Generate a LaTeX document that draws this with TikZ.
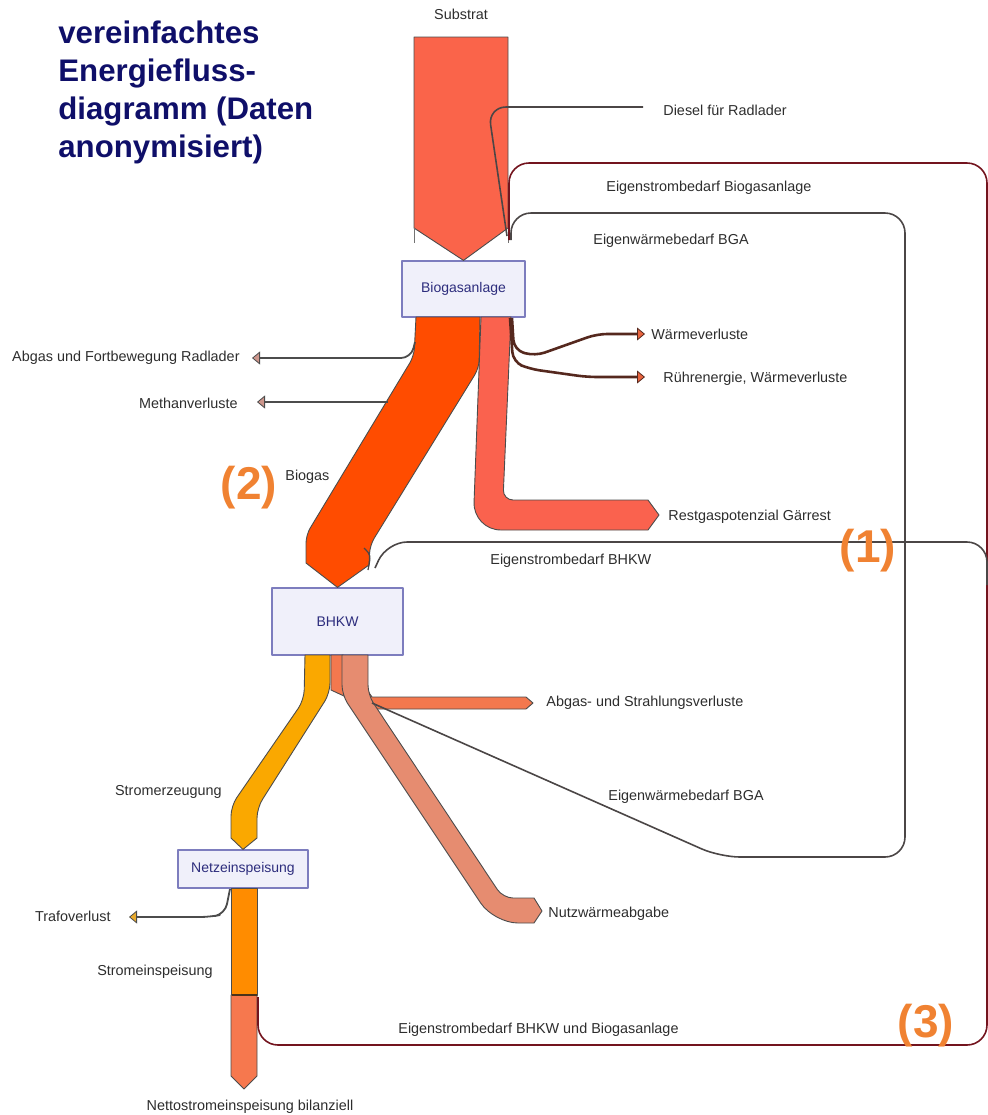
\documentclass[tikz,border=0pt]{standalone}
\usepackage{fontspec}
\setmainfont{Liberation Sans}
\usepackage{tikz}
\usetikzlibrary{positioning,arrows.meta}
\definecolor{substratc}{RGB}{250,100,74}
\definecolor{biogasc}{RGB}{255,76,0}
\definecolor{restc}{RGB}{250,98,78}
\definecolor{stromc}{RGB}{250,168,0}
\definecolor{einspc}{RGB}{255,140,0}
\definecolor{nettoc}{RGB}{246,120,78}
\definecolor{nutzc}{RGB}{230,140,112}
\definecolor{abgasc}{RGB}{243,120,78}
\definecolor{boxc}{RGB}{240,240,250}
\definecolor{boxline}{RGB}{125,125,190}
\definecolor{boxtext}{RGB}{45,45,125}
\definecolor{titlec}{RGB}{15,15,105}
\definecolor{markc}{RGB}{240,130,50}
\definecolor{loopred}{RGB}{115,20,30}
\definecolor{loopgray}{RGB}{75,70,70}
\definecolor{lblc}{RGB}{45,45,45}
\definecolor{wlinec}{RGB}{85,40,30}
\definecolor{wtipc}{RGB}{232,100,62}
\definecolor{ltipc}{RGB}{205,150,140}
\definecolor{ttipc}{RGB}{232,170,45}

\begin{document}
\begin{tikzpicture}[x=0.5pt,y=-0.5pt,line join=round,
    lbl/.style={font=\fontsize{7.2}{8.6}\selectfont,text=lblc,inner sep=0pt},
    plant/.style={draw=boxline,fill=boxc,text=boxtext,font=\fontsize{7}{8}\selectfont,inner sep=0pt,line width=0.6pt},
    band/.style={draw=black!70,line width=0.45pt},
    numlbl/.style={font=\fontsize{23}{25}\selectfont\bfseries,text=markc,inner sep=0pt},
    backline/.style={line width=0.8pt,rounded corners=10pt},
    leak/.style={draw=black!70,line width=0.9pt,rounded corners=5pt,-{Triangle[length=4pt,width=6.5pt,fill=#1,line width=0.4pt]}},
    ]
\useasboundingbox (0,0) rectangle (988,1115);

\node[anchor=north west,align=left,inner sep=0pt,text=titlec,font=\fontsize{15.6}{19}\selectfont\bfseries] (title) at (58,20) {vereinfachtes\\Energiefluss-\\diagramm (Daten\\anonymisiert)};

\node[plant,minimum width=61.5pt,minimum height=28pt] (bga) at (463.5,289) {Biogasanlage};
\node[plant,minimum width=65.5pt,minimum height=33.5pt] (bhkw) at (337.5,621.5) {BHKW};
\node[plant,minimum width=65pt,minimum height=19pt] (netz) at (243,869) {Netzeinspeisung};

% flows
\draw[band,fill=substratc] (414,37) -- (508,37) -- (508,228) -- (bga.north) -- (414,228) -- cycle; % Substrat
\draw[black!55,line width=0.45pt] (414,228) -- (414,243) (508,228) -- (508,243);
\draw[band,fill=biogasc] (416,317) -- (480,317) [rounded corners=4pt] -- (479,368) -- (370,545) [sharp corners] -- (369,565) -- (bhkw.north) -- (306,563) [rounded corners=4pt] -- (306,535) -- (414,356) [sharp corners] -- cycle; % Biogas
\draw[band,fill=restc] (481,317) -- (511,317) [rounded corners=5pt] -- (503,500) [sharp corners] -- (648,500) -- (659,515) -- (648,530) [rounded corners=14pt] -- (473,530) [sharp corners] -- cycle; % Restgas
\draw[band,fill=stromc] (305,655) -- (330,655) [rounded corners=5pt] -- (330,693) -- (257,808) [sharp corners] -- (257,838) -- (netz.north) -- (231,838) [rounded corners=5pt] -- (231,806) -- (304,700) [sharp corners] -- cycle; % Stromerzeugung
\draw[band,fill=abgasc] (331,655) -- (343,655) -- (372,697) -- (526,697) -- (533,703) -- (526,709) -- (372,709) -- (331,690) -- cycle; % Abgas
\draw[band,fill=nutzc] (342,655) -- (368,655) [rounded corners=5pt] -- (368,695) -- (503,898) [sharp corners] -- (534,898) -- (542,911) -- (534,923) [rounded corners=12pt] -- (494,923) [rounded corners=5pt] -- (342,695) [sharp corners] -- cycle; % Nutzwaerme
\draw[band,fill=einspc] (231,888) rectangle (257,995); % Stromeinspeisung
\draw[band,fill=nettoc] (231,995) -- (257,995) -- (257,1076) -- (244,1089) -- (231,1076) -- cycle; % Netto
\draw[black!60!brown,line width=1.2pt] (231.5,995) -- (256.5,995);

% losses
\draw[leak=wtipc,draw=wlinec,line width=1.3pt] (512,318) -- (514,350) -- (535,356) -- (597,334) -- (645,334);
\draw[leak=wtipc,draw=wlinec,line width=1.3pt] (510,318) -- (513,362) -- (530,369) -- (587,377) -- (645,377);
\draw[leak=ltipc] (415,342) -- (411,358) -- (252,358);
\draw[leak=ltipc] (388,402) -- (257,402);
\draw[leak=ttipc] (230,889) -- (225,914) -- (210,917) -- (129,917);

% return lines
\node[lbl,anchor=west] (dsl) at (663,110) {Diesel für Radlader};
\draw[backline,draw=loopgray,rounded corners=9pt] ([xshift=-10pt,yshift=1.5pt]dsl.west) -- (488,107) -- (507,236);
\draw[backline,draw=loopred] (258,997) -- (258,1045) -- (987,1045) -- (987,163) -- (509,163) -- (509,240);
\draw[backline,draw=loopgray] (987,585) -- (987,542) -- (387,542) -- (375,568);
\draw[loopgray,line width=0.6pt] (364,548) .. controls (371,555) .. (368,570);
\draw[backline,draw=loopgray] (372,703) -- (720,857) -- (905,857) -- (905,213) -- (511,213) -- (511,240);

% labels
\node[lbl] (sub) at (461,14) {Substrat};
\node[lbl,anchor=west] (esbga) at (606,188) {Eigenstrombedarf Biogasanlage};
\node[lbl,anchor=west] (ewbga) at (593,241) {Eigenwärmebedarf BGA};
\node[lbl,anchor=west] (wv) at (651,334) {Wärmeverluste};
\node[lbl,anchor=west] (ruehr) at (663,379) {Rührenergie, Wärmeverluste};
\node[lbl,anchor=east] (radl) at (240,358) {Abgas und Fortbewegung Radlader};
\node[lbl,anchor=east] (meth) at (238,403) {Methanverluste};
\node[lbl,anchor=west] (bgas) at (285,477) {Biogas};
\node[lbl,anchor=west] (rest) at (668,517) {Restgaspotenzial Gärrest};
\node[lbl,anchor=west] (esbhkw) at (490,561) {Eigenstrombedarf BHKW};
\node[lbl,anchor=west] (abg) at (546,703) {Abgas- und Strahlungsverluste};
\node[lbl,anchor=east] (serz) at (222,792) {Stromerzeugung};
\node[lbl,anchor=west] (ewbga2) at (608,797) {Eigenwärmebedarf BGA};
\node[lbl,anchor=east] (trafo) at (111,916) {Trafoverlust};
\node[lbl,anchor=west] (nutz) at (548,914) {Nutzwärmeabgabe};
\node[lbl,anchor=east] (seinsp) at (213,972) {Stromeinspeisung};
\node[lbl,anchor=west] (esall) at (398,1030) {Eigenstrombedarf BHKW und Biogasanlage};
\node[lbl] (netto) at (250,1107) {Nettostromeinspeisung bilanziell};

\node[numlbl] (m1) at (868,551) {(1)};
\node[numlbl] (m2) at (249,488) {(2)};
\node[numlbl] (m3) at (926,1026) {(3)};
\end{tikzpicture}
\end{document}
